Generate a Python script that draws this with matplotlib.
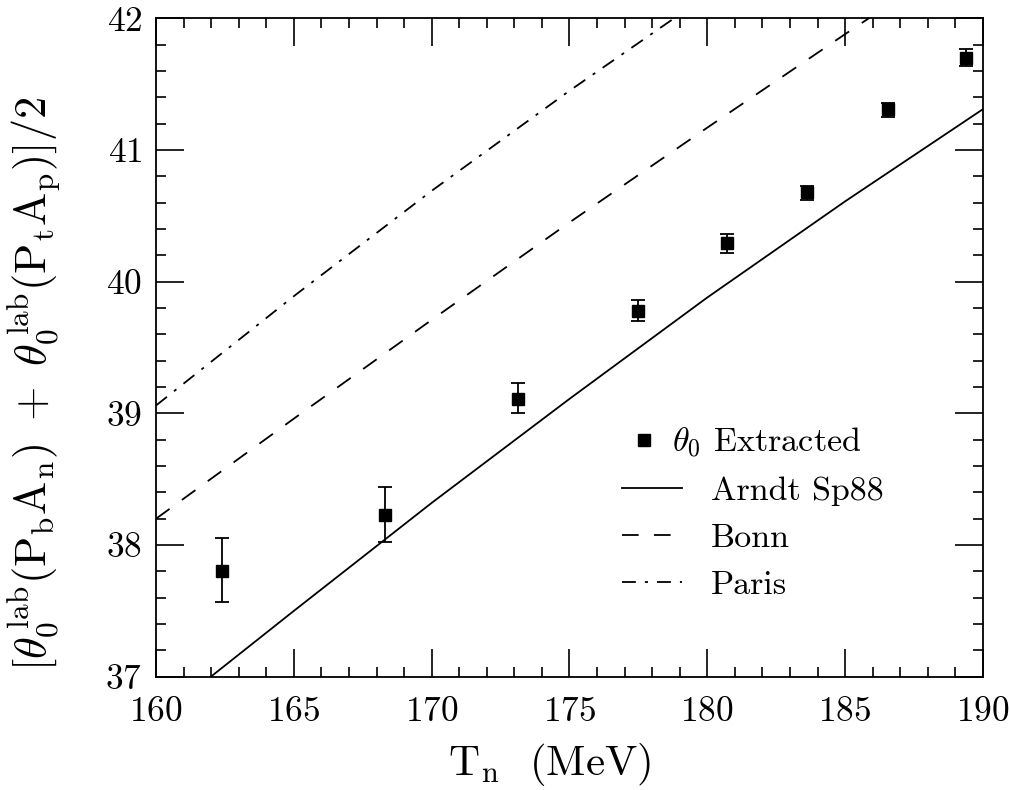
import numpy as np
import matplotlib
matplotlib.use('Agg')
import matplotlib.pyplot as plt
from matplotlib.lines import Line2D
from matplotlib.ticker import MultipleLocator

plt.rcParams['font.family'] = 'cmr10'
plt.rcParams['mathtext.fontset'] = 'cm'
plt.rcParams['axes.formatter.use_mathtext'] = True
plt.rcParams['lines.scale_dashes'] = False

# extracted theta_0 points
t_n = [162.4, 168.3, 173.15, 177.5, 180.7, 183.6, 186.55, 189.4]
theta = [37.80, 38.23, 39.11, 39.78, 40.29, 40.68, 41.31, 41.70]
err_lo = [0.23, 0.21, 0.11, 0.08, 0.07, 0.06, 0.06, 0.06]
err_hi = [0.25, 0.21, 0.12, 0.08, 0.07, 0.05, 0.05, 0.07]

# model curves
arndt_x = [160, 165, 170, 175, 180, 185, 190]
arndt_y = [36.67, 37.50, 38.32, 39.11, 39.88, 40.61, 41.31]
bonn_x = [160, 165, 170, 175, 180, 185, 186]
bonn_y = [38.20, 38.96, 39.71, 40.45, 41.17, 41.88, 42.02]
paris_x = [160, 165, 170, 175, 179]
paris_y = [39.06, 39.89, 40.69, 41.45, 42.03]

fig = plt.figure(figsize=(10.1, 7.9), dpi=100)
ax = fig.add_axes([0.1545, 0.1434, 0.8187, 0.8334])

ax.errorbar(t_n, theta, yerr=[err_lo, err_hi], fmt='s', color='black',
            markersize=8, elinewidth=1.3, capsize=5, capthick=1.3)
l1, = ax.plot(arndt_x, arndt_y, color='black', lw=1.3, label='Arndt Sp88')
l2, = ax.plot(bonn_x, bonn_y, color='black', lw=1.3, dashes=(12, 11), label='Bonn')
l3, = ax.plot(paris_x, paris_y, color='black', lw=1.3,
              dashes=(10, 6.5, 2.2, 6.5), label='Paris')

ax.set_xlim(160, 190)
ax.set_ylim(37, 42)
ax.xaxis.set_major_locator(MultipleLocator(5))
ax.xaxis.set_minor_locator(MultipleLocator(1))
ax.yaxis.set_major_locator(MultipleLocator(1))
ax.yaxis.set_minor_locator(MultipleLocator(0.2))
ax.tick_params(which='both', direction='in', top=True, right=True,
               width=1.2, labelsize=25.5)
ax.tick_params(which='major', length=20)
ax.tick_params(which='minor', length=7.5)
ax.tick_params(axis='x', pad=14)
ax.tick_params(axis='y', pad=10)
for s in ax.spines.values():
    s.set_linewidth(1.3)

ax.set_xlabel(r'T$_{\rm n}$  (MeV)', fontsize=31)
ax.xaxis.set_label_coords(0.476, -0.097)
ax.set_ylabel(r'$[\theta_0^{\,\rm lab}(\rm P_bA_n)\ +\ \theta_0^{\,\rm lab}(\rm P_tA_p)]/2$',
              fontsize=32)
ax.yaxis.set_label_coords(-0.113, 0.445)

# legend: marker entry first, then the three curves
mk = Line2D([], [], ls='none', marker='s', color='black', markersize=8)
leg1 = ax.legend([mk], [r'$\theta_0$ Extracted'], loc='center left',
                 bbox_to_anchor=(0.574, 0.355), frameon=False, fontsize=24.5,
                 handlelength=0.8, handletextpad=0.4, borderpad=0,
                 borderaxespad=0)
ax.add_artist(leg1)
ax.legend([l1, l2, l3], ['Arndt Sp88', 'Bonn', 'Paris'], loc='center left',
          bbox_to_anchor=(0.564, 0.211), frameon=False, fontsize=24.5,
          handlelength=1.75, handletextpad=0.84, labelspacing=0.5,
          borderpad=0, borderaxespad=0)

fig.savefig('out.png', dpi=100)
